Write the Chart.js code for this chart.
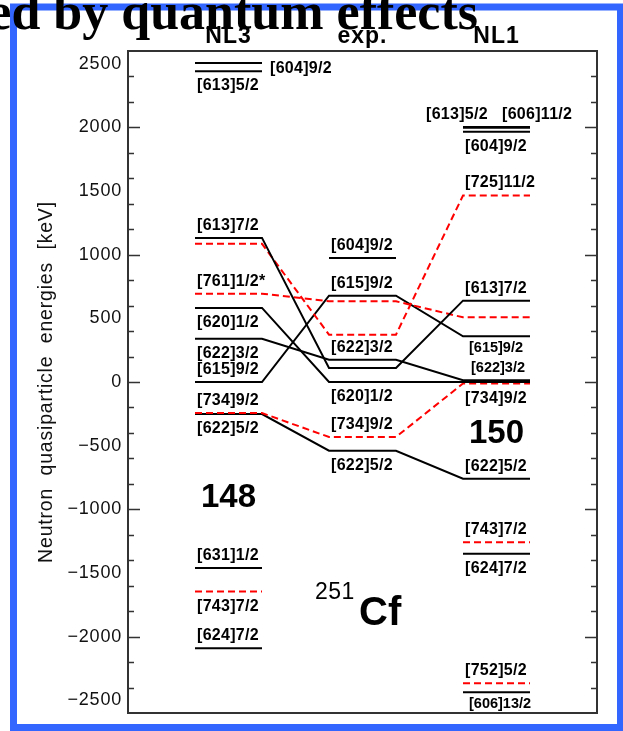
<!DOCTYPE html>
<html><head><meta charset="utf-8">
<script src="https://cdn.jsdelivr.net/npm/chart.js@4.4.1/dist/chart.umd.min.js"></script>
<style>html,body{margin:0;padding:0;background:#fff;overflow:hidden}canvas{display:block}</style>
</head><body>
<canvas id="c" width="623" height="731"></canvas>
<script>
// ---- data ----
const columns = ['NL3', 'exp.', 'NL1'];
const orbitals = ['[613]7/2','[725]11/2','[761]1/2','[620]1/2','[622]3/2','[615]9/2','[734]9/2','[622]5/2',
                  '[604]9/2','[613]5/2','[606]11/2','[631]1/2','[743]7/2','[624]7/2','[752]5/2','[606]13/2'];
const energiesNL3 = [1132, 1085, 694, 582, 340, 0, -244, -252, 2505, 2440, null, -1462, -1646, -2091, null, null];
const energiesExp = [110, 372, 634, 0, 175, 678, -432, -540, 975, null, null, null, null, null, null, null];
const energiesNL1 = [639, 1465, 508, 0, 14, 359, -12, -760, 1965, 2003, 1997, null, -1258, -1350, -2366, -2437];
const linked = [true, true, true, true, true, true, true, true, false, false, false, false, false, false, false, false];
const nl3Starred = ['[761]1/2'];
const yTickValues = [-2500, -2000, -1500, -1000, -500, 0, 500, 1000, 1500, 2000, 2500];
const yTitle = 'Neutron  quasiparticle  energies  [keV]';
const nucleus = { mass: '251', symbol: 'Cf' };
const gapLabels = { NL3: '148', NL1: '150' };
const slideTitle = 'ed by quantum effects';

// ---- label placement (layout only) ----
const placeNL3 = ['a','','a','b','b','a','a','b','r','b','','a','b','a','',''];
const placeExp = ['','','','b','a','a','a','b','a','','','','','','',''];
const placeNL1 = ['a','a','','','as','bs','b','a','b','aL','aR','','a','b','a','bs'];

const colStart = [1, 3, 5];
const energies = [energiesNL3, energiesExp, energiesNL1];
const places = [placeNL3, placeExp, placeNL1];

const datasets = orbitals.map((name, i) => {
  const pts = [];
  energies.forEach((arr, c) => {
    const e = arr[i];
    if (e === null) { pts.push({x: colStart[c] + 0.5, y: null}); return; }
    if (!linked[i] && pts.length) pts.push({x: colStart[c] - 0.5, y: null});
    pts.push({x: colStart[c], y: e}, {x: colStart[c] + 1, y: e});
  });
  const neg = name.startsWith('[7');
  return {
    label: name, data: pts,
    borderColor: neg ? '#ff0000' : '#000000',
    borderWidth: 2, borderDash: neg ? [7, 4] : [],
    pointRadius: 0, fill: false, tension: 0, spanGaps: false,
    xAxisID: 'x', yAxisID: 'y'
  };
});

const SANS = "'Liberation Sans', Arial, Helvetica, sans-serif";

const deco = {
  id: 'deco',
  beforeDraw(chart) {
    const ctx = chart.ctx;
    ctx.save();
    ctx.fillStyle = '#ffffff';
    ctx.fillRect(0, 0, chart.width, chart.height);
    ctx.strokeStyle = '#3366ff';
    ctx.lineWidth = 7;
    ctx.strokeRect(13.5, 7, 607, 720.5);
    ctx.restore();
    ctx.letterSpacing = '0.8px';
  },
  beforeDatasetsDraw(chart) { chart.ctx.letterSpacing = '0px'; },
  afterDatasetsDraw(chart) {
    const ctx = chart.ctx;
    const a = chart.chartArea;
    const ys = chart.scales.y, ym = chart.scales.yMinor, xs = chart.scales.x;
    ctx.save();
    ctx.letterSpacing = '0px';
    // frame
    ctx.strokeStyle = '#333333';
    ctx.lineWidth = 2;
    ctx.strokeRect(a.left, a.top, a.right - a.left, a.bottom - a.top);
    // inward ticks
    ctx.lineWidth = 1.5;
    const major = new Set(ys.ticks.map(t => t.value));
    ym.ticks.forEach(t => {
      if (t.value <= ym.min || t.value >= ym.max) return;
      const len = major.has(t.value) ? 12 : 6;
      const py = Math.round(ys.getPixelForValue(t.value)) + 0.5;
      ctx.beginPath();
      ctx.moveTo(a.left, py); ctx.lineTo(a.left + len, py);
      ctx.moveTo(a.right, py); ctx.lineTo(a.right - len, py);
      ctx.stroke();
    });
    // level labels
    ctx.fillStyle = '#000';
    ctx.textBaseline = 'alphabetic';
    ctx.textAlign = 'left';
    places.forEach((pl, c) => {
      const xl = xs.getPixelForValue(colStart[c]);
      const xr = xs.getPixelForValue(colStart[c] + 1);
      pl.forEach((p, i) => {
        if (!p) return;
        const e = energies[c][i];
        const py = ys.getPixelForValue(e);
        let txt = orbitals[i];
        if (c === 0 && nl3Starred.includes(txt)) txt += '*';
        let x = xl + 2, y = py - 8, size = 16;
        if (p === 'b') y = py + 19;
        else if (p === 'as') { x = xl + 8; size = 14.5; }
        else if (p === 'bs') { x = xl + 6; y = py + 16; size = 14.5; }
        else if (p === 'aL') { x = xl - 37; }
        else if (p === 'aR') { x = xl + 39; y = ys.getPixelForValue(energies[c][i - 1]) - 8; }
        else if (p === 'r') { x = xr + 8; y = py + 10; }
        ctx.font = `bold ${size}px ${SANS}`;
        ctx.letterSpacing = size >= 16 ? '0.3px' : '0px';
        ctx.fillText(txt, x, y);
      });
    });
    ctx.restore();
  },
  afterDraw(chart) {
    const ctx = chart.ctx;
    const xs = chart.scales.x;
    ctx.save();
    ctx.letterSpacing = '0px';
    ctx.fillStyle = '#000';
    // column headers
    ctx.textAlign = 'center';
    ctx.textBaseline = 'alphabetic';
    ctx.font = `bold 23px ${SANS}`;
    ctx.letterSpacing = '1px';
    columns.forEach((name, c) => {
      ctx.fillText(name, xs.getPixelForValue(colStart[c] + 0.5), 43);
    });
    ctx.letterSpacing = '0px';
    // gap numbers
    ctx.font = `bold 33px ${SANS}`;
    ctx.fillText(gapLabels.NL3, xs.getPixelForValue(1.5), 507);
    ctx.fillText(gapLabels.NL1, xs.getPixelForValue(5.5), 443);
    // nucleus
    ctx.textAlign = 'left';
    ctx.font = `23px ${SANS}`;
    ctx.letterSpacing = '0.5px';
    ctx.fillText(nucleus.mass, 315, 599);
    ctx.letterSpacing = '0px';
    ctx.font = `bold 40px ${SANS}`;
    ctx.fillText(nucleus.symbol, 359, 625);
    // slide title (cut off at left)
    ctx.textAlign = 'right';
    ctx.font = `bold 52px 'Liberation Serif', 'Times New Roman', serif`;
    ctx.fillText(slideTitle, 478, 29);
    ctx.restore();
  }
};

new Chart(document.getElementById('c'), {
  type: 'line',
  data: { datasets },
  plugins: [deco],
  options: {
    responsive: false,
    animation: false,
    events: [],
    layout: { padding: { left: 0, right: 26, top: 51, bottom: 18 } },
    plugins: { legend: { display: false }, tooltip: { enabled: false }, title: { display: false } },
    scales: {
      x: { type: 'linear', min: 0, max: 7, display: false },
      y: {
        type: 'linear', position: 'left', min: -2600, max: 2600,
        afterBuildTicks: s => { s.ticks = yTickValues.map(v => ({ value: v })); },
        afterFit: s => { s.width = 128; },
        grid: { display: false, drawTicks: false },
        border: { display: false },
        ticks: {
          color: '#111', padding: 6,
          font: { family: SANS, size: 18 },
          callback: v => (v < 0 ? '\u2212' + Math.abs(v) : String(v))
        },
        title: {
          display: true, text: yTitle, color: '#111',
          font: { family: SANS, size: 19.5 },
          padding: { top: 35, bottom: 0 }
        }
      },
      yMinor: {
        type: 'linear', position: 'right', min: -2600, max: 2600, display: false,
        ticks: { stepSize: 100 }
      }
    }
  }
});
</script>
</body></html>
